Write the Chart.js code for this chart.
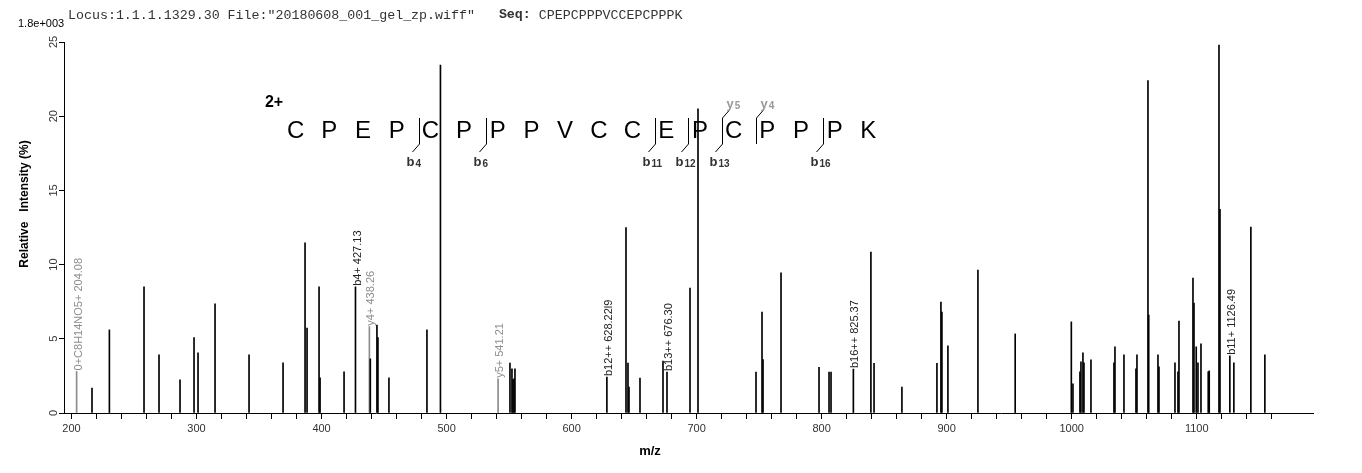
<!DOCTYPE html>
<html>
<head>
<meta charset="utf-8">
<script src="https://cdn.jsdelivr.net/npm/chart.js@4.4.1/dist/chart.umd.min.js"></script>
<style>
  html, body { margin: 0; padding: 0; background: #fff; }
  #wrap { position: relative; width: 1362px; height: 473px; }
</style>
</head>
<body>
<div id="wrap"><canvas id="spectrum" width="1362" height="473"></canvas></div>
<script>
// peak list: m/z and relative intensity (%)
const mzValues = [
  204.08, 216.4, 230.3, 258.0, 270.0, 286.8, 298.0, 301.2, 314.8, 342.0,
  369.2, 386.8, 388.4, 398.0, 398.8, 418.0, 427.13, 438.26, 439.0, 444.3,
  445.1, 453.9, 484.3, 495.1, 541.21, 550.7, 552.3, 553.1, 553.9, 554.7,
  628.22, 643.5, 645.1, 645.9, 654.7, 673.1, 676.30, 694.7, 701.1, 747.5,
  752.3, 753.1, 767.5, 797.9, 805.9, 807.5, 825.37, 839.4, 841.9, 864.2,
  892.2, 895.4, 896.2, 901.0, 925.0, 954.8, 999.7, 1001.0, 1006.6, 1007.4,
  1009.0, 1009.8, 1015.4, 1033.8, 1034.6, 1041.8, 1051.4, 1052.2, 1061.0, 1061.6,
  1069.0, 1069.8, 1082.6, 1085.0, 1085.8, 1097.0, 1097.8, 1099.6, 1101.0, 1103.4,
  1109.2, 1110.0, 1117.8, 1118.6, 1126.49, 1129.7, 1143.3, 1154.5
];
const intensities = [
  2.8, 1.68, 5.6, 8.5, 3.92, 2.24, 5.08, 4.05, 7.35, 3.92,
  3.38, 11.47, 5.73, 8.5, 2.37, 2.78, 8.5, 5.82, 3.65, 5.93,
  5.08, 2.37, 5.6, 23.45, 2.3, 3.36, 2.98, 2.24, 2.3, 2.98,
  2.42, 12.5, 3.36, 1.75, 2.35, 3.5, 2.76, 8.42, 20.5, 2.76,
  6.8, 3.6, 9.45, 3.07, 2.76, 2.76, 2.96, 10.84, 3.34, 1.75,
  3.34, 7.48, 6.8, 4.52, 9.63, 5.33, 6.14, 1.97, 2.78, 3.45,
  4.05, 3.38, 3.58, 3.38, 4.46, 3.92, 2.98, 3.92, 22.4, 6.6,
  3.92, 3.11, 3.38, 2.78, 6.2, 9.09, 7.41, 4.46, 3.38, 4.66,
  2.78, 2.84, 24.8, 13.73, 3.85, 3.38, 12.52, 3.92
];

// annotated peaks
const labelMz = [204.08, 427.13, 438.26, 541.21, 628.22, 676.30, 825.37, 1126.49];
const labelText = ['0+C8H14NO5+ 204.08', 'b4+ 427.13', 'y4+ 438.26', 'y5+ 541.21',
  'b12++ 628.22l9', 'b13++ 676.30', 'b16++ 825.37', 'b11+ 1126.49'];
const labelKind = ['other', 'b', 'y', 'y', 'b', 'b', 'b', 'b'];

// peptide and matched fragment ions
const sequence = ['C','P','E','P','C','P','P','P','V','C','C','E','P','C','P','P','P','K'];
const bIons = [4, 6, 11, 12, 13, 16];
const yIons = [5, 4];
const chargeLabel = '2+';

const xTickStep = 20;
const yTicks = [0, 5, 10, 15, 20, 25];

const SANS = '"Liberation Sans", Arial, sans-serif';
const MONO = '"Liberation Mono", "DejaVu Sans Mono", monospace';
const GREY = '#8c8c8c';

const peakColors = mzValues.map(mz => {
  const i = labelMz.indexOf(mz);
  return (i >= 0 && labelKind[i] !== 'b') ? GREY : '#000';
});

function ionLabel(ctx, letter, num, x, y, color) {
  ctx.fillStyle = color;
  ctx.textBaseline = 'alphabetic';
  ctx.textAlign = 'left';
  ctx.font = 'bold 13px ' + SANS;
  ctx.fillText(letter, x, y);
  const w = ctx.measureText(letter).width;
  ctx.font = 'bold 10px ' + SANS;
  ctx.fillText(String(num), x + w + 1, y + 1);
}

const decorations = {
  id: 'decorations',
  afterDraw(chart) {
    const { ctx, scales: { x, y } } = chart;
    ctx.save();

    // header line
    ctx.fillStyle = '#333';
    ctx.textBaseline = 'middle';
    ctx.textAlign = 'left';
    ctx.font = '13.3px ' + MONO;
    const head = 'Locus:1.1.1.1329.30 File:"20180608_001_gel_zp.wiff"   ';
    ctx.fillText(head, 68, 15);
    let hx = 68 + ctx.measureText(head).width;
    ctx.font = 'bold 13.3px ' + MONO;
    ctx.fillText('Seq:', hx, 15);
    hx += ctx.measureText('Seq: ').width;
    ctx.font = '13.3px ' + MONO;
    ctx.fillText(sequence.join(''), hx, 15);

    ctx.fillStyle = '#000';
    ctx.font = '11px ' + SANS;
    ctx.fillText('1.8e+003', 18, 24);

    // rotated y tick labels
    ctx.fillStyle = '#333';
    ctx.font = '11px ' + SANS;
    ctx.textAlign = 'center';
    yTicks.forEach(v => {
      ctx.save();
      ctx.translate(54, y.getPixelForValue(v));
      ctx.rotate(-Math.PI / 2);
      ctx.fillText(String(v), 0, 0);
      ctx.restore();
    });

    // axis titles
    ctx.fillStyle = '#000';
    ctx.font = 'bold 12px ' + SANS;
    ctx.save();
    ctx.translate(25, 204);
    ctx.rotate(-Math.PI / 2);
    ctx.fillText('Relative   Intensity (%)', 0, 0);
    ctx.restore();
    ctx.font = 'bold 13px ' + SANS;
    ctx.fillText('m/z', 650, 451);

    // peak labels
    ctx.font = '11px ' + SANS;
    ctx.textAlign = 'left';
    labelMz.forEach((mz, i) => {
      const k = mzValues.indexOf(mz);
      const px = x.getPixelForValue(mz);
      const py = y.getPixelForValue(intensities[k]);
      ctx.fillStyle = labelKind[i] === 'b' ? '#222' : GREY;
      ctx.save();
      ctx.translate(px + 2, py - 1);
      ctx.rotate(-Math.PI / 2);
      ctx.fillText(labelText[i], 0, 0);
      ctx.restore();
    });

    // peptide sequence with fragment markers
    const x0 = 295.6, dx = 33.69, cy = 131;
    ctx.fillStyle = '#000';
    ctx.font = 'bold 16px ' + SANS;
    ctx.textAlign = 'center';
    ctx.fillText(chargeLabel, 274, 103);
    ctx.font = '24px ' + SANS;
    sequence.forEach((aa, i) => ctx.fillText(aa, x0 + i * dx, cy));

    ctx.strokeStyle = '#000';
    ctx.lineWidth = 1;
    bIons.forEach(n => {
      const mx = Math.round(x0 + (n - 1) * dx + 22) + 0.5;
      ctx.beginPath();
      ctx.moveTo(mx, 118);
      ctx.lineTo(mx, 144);
      ctx.lineTo(mx - 7, 152);
      ctx.stroke();
      ionLabel(ctx, 'b', n, mx - 13, 166, '#333');
    });
    yIons.forEach(n => {
      const mx = Math.round(x0 + (sequence.length - n - 1) * dx + 22) + 0.5;
      ctx.strokeStyle = '#000';
      ctx.beginPath();
      ctx.moveTo(mx, 144);
      ctx.lineTo(mx, 118);
      ctx.lineTo(mx + 7, 110);
      ctx.stroke();
      ionLabel(ctx, 'y', n, mx + 4, 108, '#999');
    });

    ctx.restore();
  }
};

new Chart(document.getElementById('spectrum'), {
  type: 'bar',
  data: {
    datasets: [{
      data: mzValues.map((mz, i) => ({ x: mz, y: intensities[i] })),
      backgroundColor: peakColors,
      borderWidth: 0,
      barThickness: 1,
      grouped: false
    }]
  },
  options: {
    responsive: false,
    animation: false,
    layout: { padding: { top: 42, right: 49, left: 0, bottom: 0 } },
    plugins: { legend: { display: false }, tooltip: { enabled: false } },
    scales: {
      x: {
        type: 'linear',
        offset: false,
        min: 194,
        max: 1193,
        afterFit(s) { s.height = 60; },
        afterBuildTicks(s) { s.ticks = s.ticks.filter(t => t.value <= 1160); },
        border: { color: '#000', width: 1 },
        grid: { drawOnChartArea: false, offset: false, color: '#000', tickLength: 6 },
        ticks: {
          stepSize: xTickStep,
          includeBounds: false,
          autoSkip: false,
          maxRotation: 0,
          padding: 3,
          color: '#333',
          font: { family: SANS, size: 11 },
          callback: v => (v % 100 === 0 ? String(v) : '')
        }
      },
      y: {
        min: 0,
        max: 25,
        afterFit(s) { s.width = 64; },
        border: { color: '#000', width: 1 },
        grid: { drawOnChartArea: false, color: '#000', tickLength: 5 },
        ticks: { stepSize: 5, display: false }
      }
    }
  },
  plugins: [decorations]
});
</script>
</body>
</html>
